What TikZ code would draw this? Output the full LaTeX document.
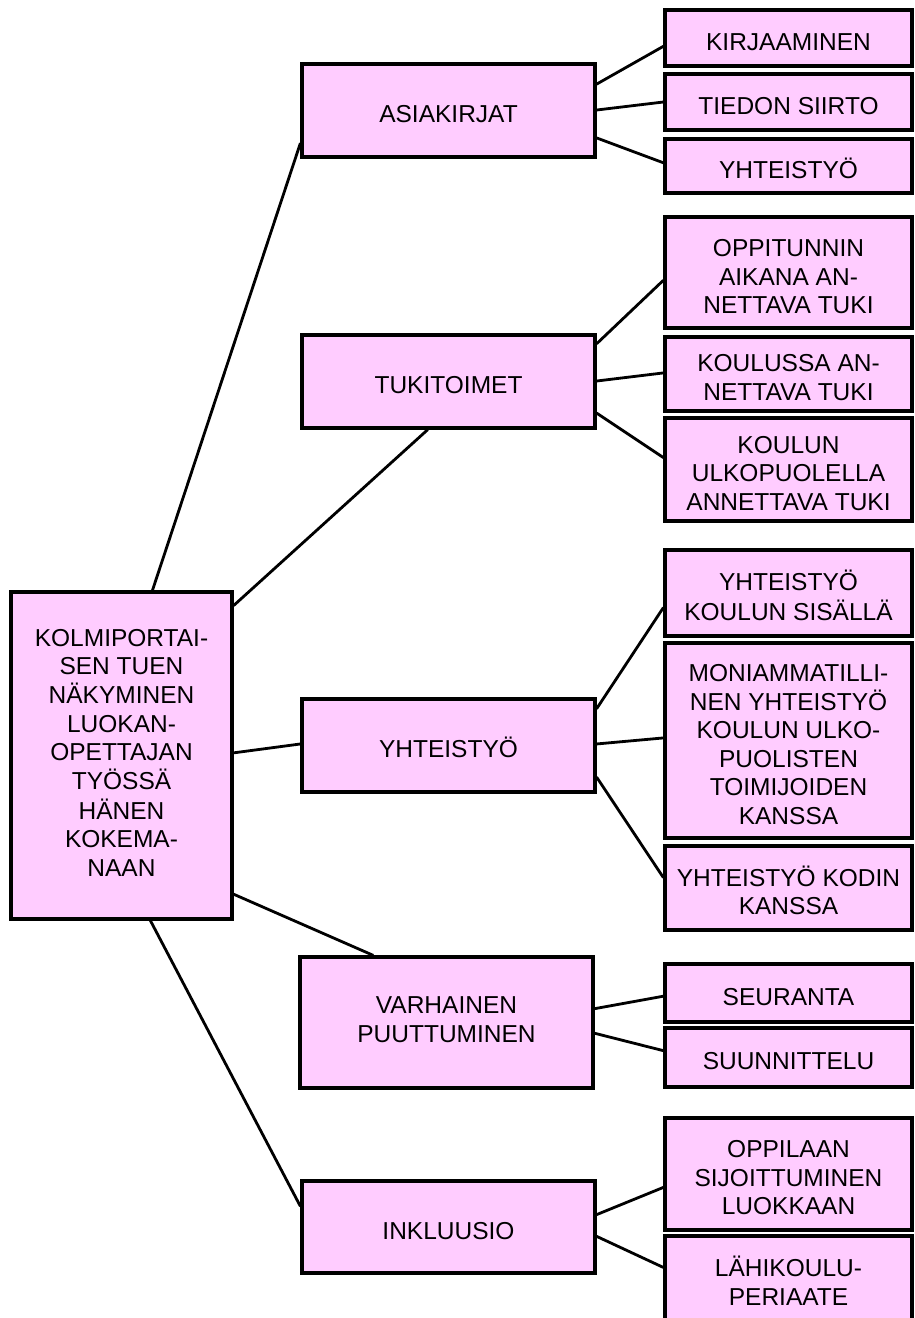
\documentclass[tikz,border=0pt]{standalone}
\usepackage{fontspec}
\setmainfont{Liberation Sans}
\usetikzlibrary{calc}
\definecolor{boxpink}{RGB}{255,204,255}
% text block that can be lowered without changing its reported size
\newcommand\boxtext[2][-6.5pt]{\raisebox{#1}[\height][\depth]{\begin{tabular}{@{}c@{}}#2\end{tabular}}}
\begin{document}
\begin{tikzpicture}[x=1pt,y=-1pt,
  box/.style={draw=black, line width=3.2pt, fill=boxpink,
    font=\fontsize{24.5}{28.5}\selectfont, inner sep=0pt, minimum width=293pt},
  sub/.style={box, minimum width=247pt},
  conn/.style={draw=black, line width=2.8pt}]
\useasboundingbox (0,0) rectangle (915,1318);
% root
\node[box, minimum width=221pt, minimum height=327pt] (root) at (121.5,755.5)
  {\boxtext[0pt]{KOLMIPORTAI-\\SEN TUEN\\NÄKYMINEN\\LUOKAN-\\OPETTAJAN\\TYÖSSÄ\\HÄNEN\\KOKEMA-\\NAAN}};
% middle column
\node[box, minimum height=93pt] (asia) at (448.5,110.5) {\boxtext{ASIAKIRJAT}};
\node[box, minimum height=93pt] (tuki) at (448.5,381.5) {\boxtext{TUKITOIMET}};
\node[box, minimum height=93pt] (yht) at (448.5,745.5) {\boxtext{YHTEISTYÖ}};
\node[box, minimum height=131pt] (varh) at (446.5,1022.5) {\boxtext[0pt]{VARHAINEN\\PUUTTUMINEN}};
\node[box, minimum height=92pt] (inkl) at (448.5,1227) {\boxtext{INKLUUSIO}};
% right column
\node[sub, minimum height=56pt] (kirj) at (788.5,38) {\boxtext{KIRJAAMINEN}};
\node[sub, minimum height=56pt] (tied) at (788.5,102) {\boxtext{TIEDON SIIRTO}};
\node[sub, minimum height=54pt] (yhta) at (788.5,166) {\boxtext{YHTEISTYÖ}};
\node[sub, minimum height=111pt] (oppi) at (788.5,272.5) {\boxtext[-7pt]{OPPITUNNIN\\AIKANA AN-\\NETTAVA TUKI}};
\node[sub, minimum height=74pt] (koul) at (788.5,374) {\boxtext{KOULUSSA AN-\\NETTAVA TUKI}};
\node[sub, minimum height=103pt] (ulko) at (788.5,469.5) {\boxtext{KOULUN\\ULKOPUOLELLA\\ANNETTAVA TUKI}};
\node[sub, minimum height=86pt] (sisa) at (788.5,593) {\boxtext{YHTEISTYÖ\\KOULUN SISÄLLÄ}};
\node[sub, minimum height=195pt] (moni) at (788.5,740.5) {\boxtext{MONIAMMATILLI-\\NEN YHTEISTYÖ\\KOULUN ULKO-\\PUOLISTEN\\TOIMIJOIDEN\\KANSSA}};
\node[sub, minimum height=84pt] (kodi) at (788.5,888) {\boxtext{YHTEISTYÖ KODIN\\KANSSA}};
\node[sub, minimum height=58pt] (seur) at (788.5,993) {\boxtext{SEURANTA}};
\node[sub, minimum height=59pt] (suun) at (788.5,1057.5) {\boxtext{SUUNNITTELU}};
\node[sub, minimum height=112pt] (oppl) at (788.5,1174) {\boxtext{OPPILAAN\\SIJOITTUMINEN\\LUOKKAAN}};
\node[sub, minimum height=94pt] (lahi) at (788.5,1283) {\boxtext[-2pt]{LÄHIKOULU-\\PERIAATE}};
% connectors from root
\draw[conn] ($(root.north west)!0.638!(root.north east)$) -- ($(asia.north west)!0.839!(asia.south west)$);
\draw[conn] ($(root.north east)!0.046!(root.south east)$) -- ($(tuki.south west)!0.43!(tuki.south east)$);
\draw[conn] ($(root.north east)!0.492!(root.south east)$) -- ($(yht.north west)!0.484!(yht.south west)$);
\draw[conn] ($(root.north east)!0.92!(root.south east)$) -- ($(varh.north west)!0.253!(varh.north east)$);
\draw[conn] ($(root.south west)!0.629!(root.south east)$) -- ($(inkl.north west)!0.283!(inkl.south west)$);
% asiakirjat
\draw[conn] ($(asia.north east)!0.226!(asia.south east)$) -- ($(kirj.north west)!0.64!(kirj.south west)$);
\draw[conn] ($(asia.north east)!0.495!(asia.south east)$) -- ($(tied.north west)!0.5!(tied.south west)$);
\draw[conn] ($(asia.north east)!0.785!(asia.south east)$) -- ($(yhta.north west)!0.444!(yhta.south west)$);
% tukitoimet
\draw[conn] ($(tuki.north east)!0.108!(tuki.south east)$) -- ($(oppi.north west)!0.568!(oppi.south west)$);
\draw[conn] ($(tuki.north east)!0.495!(tuki.south east)$) -- ($(koul.north west)!0.486!(koul.south west)$);
\draw[conn] ($(tuki.north east)!0.828!(tuki.south east)$) -- ($(ulko.north west)!0.388!(ulko.south west)$);
% yhteistyo
\draw[conn] ($(yht.north east)!0.118!(yht.south east)$) -- ($(sisa.north west)!0.663!(sisa.south west)$);
\draw[conn] ($(yht.north east)!0.484!(yht.south east)$) -- ($(moni.north west)!0.487!(moni.south west)$);
\draw[conn] ($(yht.north east)!0.828!(yht.south east)$) -- ($(kodi.north west)!0.381!(kodi.south west)$);
% varhainen
\draw[conn] ($(varh.north east)!0.397!(varh.south east)$) -- ($(seur.north west)!0.552!(seur.south west)$);
\draw[conn] ($(varh.north east)!0.58!(varh.south east)$) -- ($(suun.north west)!0.39!(suun.south west)$);
% inkluusio
\draw[conn] ($(inkl.north east)!0.37!(inkl.south east)$) -- ($(oppl.north west)!0.616!(oppl.south west)$);
\draw[conn] ($(inkl.north east)!0.598!(inkl.south east)$) -- ($(lahi.north west)!0.34!(lahi.south west)$);
\end{tikzpicture}
\end{document}
